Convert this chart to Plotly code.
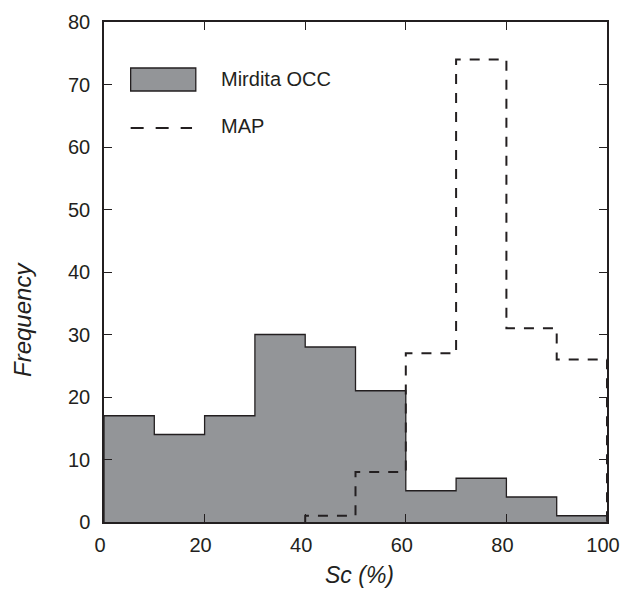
import plotly.graph_objects as go

bin_edges = [0, 10, 20, 30, 40, 50, 60, 70, 80, 90, 100]
occ_counts = [17, 14, 17, 30, 28, 21, 5, 7, 4, 1]
map_counts = [0, 0, 0, 0, 1, 8, 27, 74, 31, 26]
x_ticks = [0, 20, 40, 60, 80, 100]
y_ticks = [0, 10, 20, 30, 40, 50, 60, 70, 80]


def step_xy(edges, counts, start=0):
    xs, ys = [edges[start]], [0]
    for i in range(start, len(counts)):
        xs += [edges[i], edges[i + 1]]
        ys += [counts[i], counts[i]]
    xs.append(edges[-1])
    ys.append(0)
    return xs, ys


ox, oy = step_xy(bin_edges, occ_counts, 0)
first_map = next(i for i, c in enumerate(map_counts) if c > 0)
mx, my = step_xy(bin_edges, map_counts, first_map)

ink = "#231f20"
fig = go.Figure()
fig.add_trace(go.Scatter(x=ox, y=oy, mode="lines", fill="tozeroy",
                         fillcolor="#939598", line=dict(color=ink, width=1.3),
                         name="Mirdita OCC", showlegend=False, hoverinfo="skip"))
fig.add_trace(go.Scatter(x=mx, y=my, mode="lines",
                         line=dict(color=ink, width=2, dash="10px,9px"),
                         name="MAP", showlegend=False, hoverinfo="skip"))

font_main = "Liberation Sans, Arial, sans-serif"
axis_common = dict(showline=True, linecolor=ink, linewidth=1.5, mirror="ticks",
                   ticks="inside", ticklen=8, tickcolor=ink, tickwidth=1,
                   showgrid=False, zeroline=False, automargin=False,
                   tickfont=dict(family=font_main, size=20, color=ink))

fig.update_layout(
    width=623, height=597,
    margin=dict(l=104, r=16, t=22, b=75),
    paper_bgcolor="white", plot_bgcolor="white",
    xaxis=dict(range=[0, 100], tickvals=x_ticks, ticklabelstandoff=4, ticklabelshift=-4,
               **axis_common),
    yaxis=dict(range=[0, 80], tickvals=y_ticks, ticklabelstandoff=8,
               **axis_common),
)

# Axis titles
fig.add_annotation(xref="paper", yref="paper", x=0.507, y=-0.106, text="<i>Sc (%)</i>", showarrow=False,
                   xanchor="center", yanchor="middle", font=dict(family=font_main, size=23, color=ink))
fig.add_annotation(xref="paper", yref="paper", x=-0.163, y=0.404, text="<i>Frequency</i>", showarrow=False,
                   textangle=-90, xanchor="center", yanchor="middle",
                   font=dict(family=font_main, size=24, color=ink))

# Legend drawn manually
fig.add_shape(type="rect", xref="paper", yref="paper", x0=0.053, x1=0.1825, y0=0.862, y1=0.908,
              fillcolor="#939598", line=dict(color=ink, width=1.3))
fig.add_annotation(xref="paper", yref="paper", x=0.228, y=0.886, text="Mirdita OCC", showarrow=False,
                   xanchor="left", yanchor="middle", font=dict(family=font_main, size=20, color=ink))
fig.add_shape(type="line", xref="paper", yref="paper", x0=0.053, x1=0.175, y0=0.788, y1=0.788,
              line=dict(color=ink, width=2, dash="13px,12px"))
fig.add_annotation(xref="paper", yref="paper", x=0.228, y=0.792, text="MAP", showarrow=False,
                   xanchor="left", yanchor="middle", font=dict(family=font_main, size=20, color=ink))

fig.write_html("out.html", config={"displayModeBar": False},
               post_script="document.body.style.margin='0';document.body.style.overflow='hidden';")
